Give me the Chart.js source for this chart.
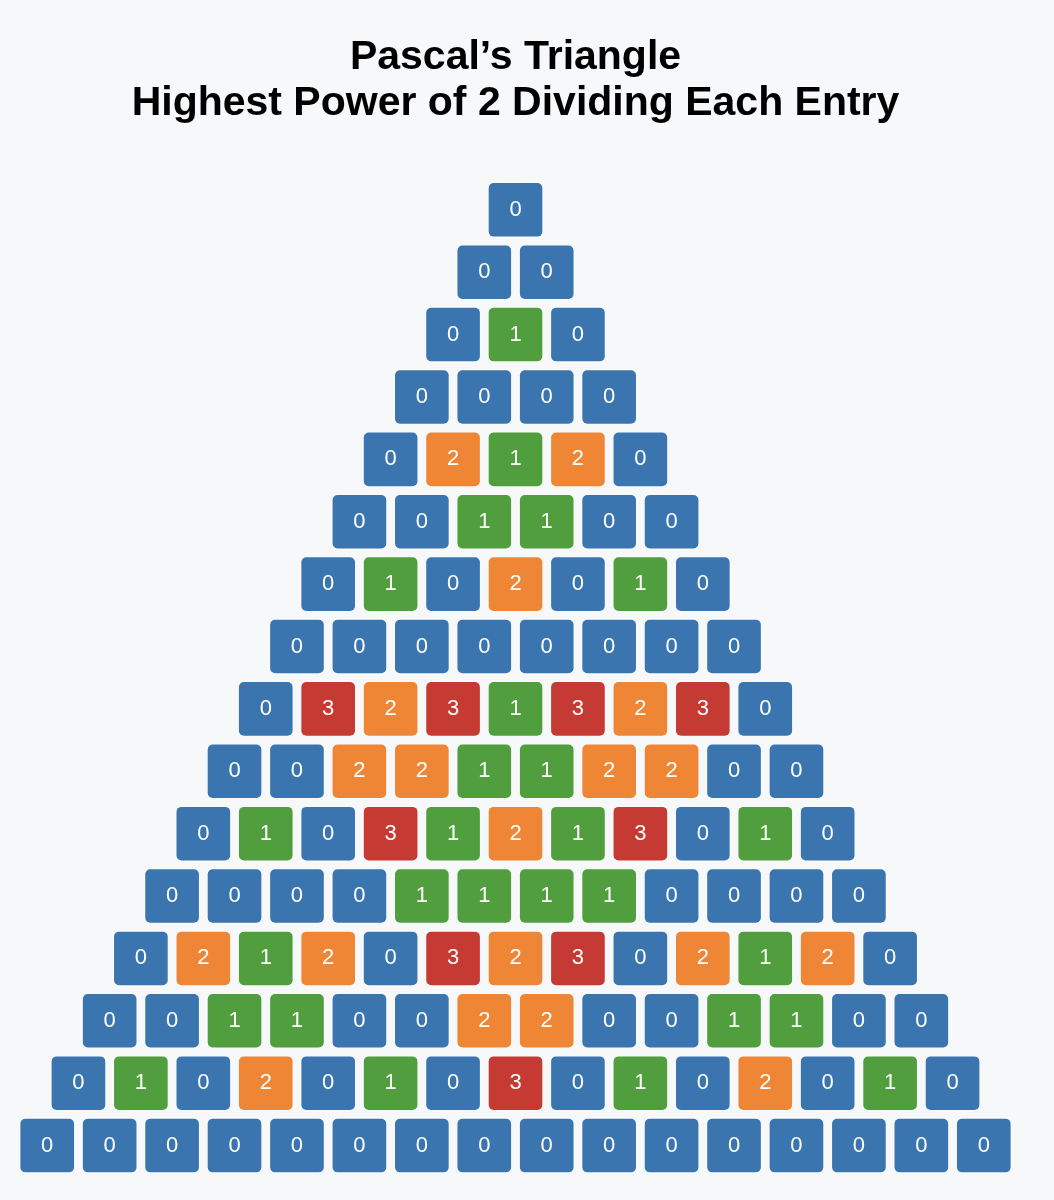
<!DOCTYPE html>
<html>
<head>
<meta charset="utf-8">
<script src="https://cdn.jsdelivr.net/npm/chart.js@4/dist/chart.umd.min.js"></script>
<style>
  html, body { margin: 0; padding: 0; background: #f7f8fa; }
  #wrap { width: 1054px; height: 1200px; position: relative; }
</style>
</head>
<body>
<div id="wrap"><canvas id="c"></canvas></div>
<script>
// Rows of Pascal's triangle: exponent of the highest power of 2 dividing each entry
const row0  = [0];
const row1  = [0, 0];
const row2  = [0, 1, 0];
const row3  = [0, 0, 0, 0];
const row4  = [0, 2, 1, 2, 0];
const row5  = [0, 0, 1, 1, 0, 0];
const row6  = [0, 1, 0, 2, 0, 1, 0];
const row7  = [0, 0, 0, 0, 0, 0, 0, 0];
const row8  = [0, 3, 2, 3, 1, 3, 2, 3, 0];
const row9  = [0, 0, 2, 2, 1, 1, 2, 2, 0, 0];
const row10 = [0, 1, 0, 3, 1, 2, 1, 3, 0, 1, 0];
const row11 = [0, 0, 0, 0, 1, 1, 1, 1, 0, 0, 0, 0];
const row12 = [0, 2, 1, 2, 0, 3, 2, 3, 0, 2, 1, 2, 0];
const row13 = [0, 0, 1, 1, 0, 0, 2, 2, 0, 0, 1, 1, 0, 0];
const row14 = [0, 1, 0, 2, 0, 1, 0, 3, 0, 1, 0, 2, 0, 1, 0];
const row15 = [0, 0, 0, 0, 0, 0, 0, 0, 0, 0, 0, 0, 0, 0, 0, 0];
const rows = [row0, row1, row2, row3, row4, row5, row6, row7, row8, row9, row10, row11, row12, row13, row14, row15];

const titleLines = ["Pascal\u2019s Triangle", "Highest Power of 2 Dividing Each Entry"];
const valueColors = ["#3a75af", "#519e3e", "#ef8636", "#c53a32"];

const points = [];
const colors = [];
rows.forEach((r, n) => {
  r.forEach((v, k) => {
    points.push({ x: k - n / 2, y: [n - 0.44, n + 0.44], v: v });
    colors.push(valueColors[v]);
  });
});

const labelPlugin = {
  id: 'cellLabels',
  afterDatasetsDraw(chart) {
    const ctx = chart.ctx;
    const meta = chart.getDatasetMeta(0);
    ctx.save();
    ctx.fillStyle = '#ffffff';
    ctx.font = '22px "Liberation Sans", Arial, sans-serif';
    ctx.textAlign = 'center';
    ctx.textBaseline = 'middle';
    meta.data.forEach((el, i) => {
      const c = el.getCenterPoint();
      ctx.fillText(String(points[i].v), c.x, c.y);
    });
    ctx.restore();
  }
};

new Chart(document.getElementById('c'), {
  type: 'bar',
  data: {
    datasets: [{
      data: points,
      backgroundColor: colors,
      borderColor: 'rgba(255,255,255,0.35)',
      borderWidth: 1,
      borderSkipped: false,
      borderRadius: 6,
      barThickness: 55
    }]
  },
  options: {
    responsive: true,
    maintainAspectRatio: false,
    animation: false,
    layout: { padding: { left: 16, right: 39, top: 0, bottom: 17 } },
    scales: {
      x: { type: 'linear', min: -8, max: 8, offset: false, display: false },
      y: { type: 'linear', min: -0.6, max: 15.6, reverse: true, display: false }
    },
    plugins: {
      legend: { display: false },
      tooltip: { enabled: false },
      title: {
        display: true,
        text: titleLines,
        color: '#000000',
        font: { family: '"Liberation Sans", Arial, sans-serif', size: 41, weight: 'bold', lineHeight: 1.139 },
        padding: { top: 34, bottom: 45 }
      }
    }
  },
  plugins: [labelPlugin]
});
</script>
</body>
</html>
